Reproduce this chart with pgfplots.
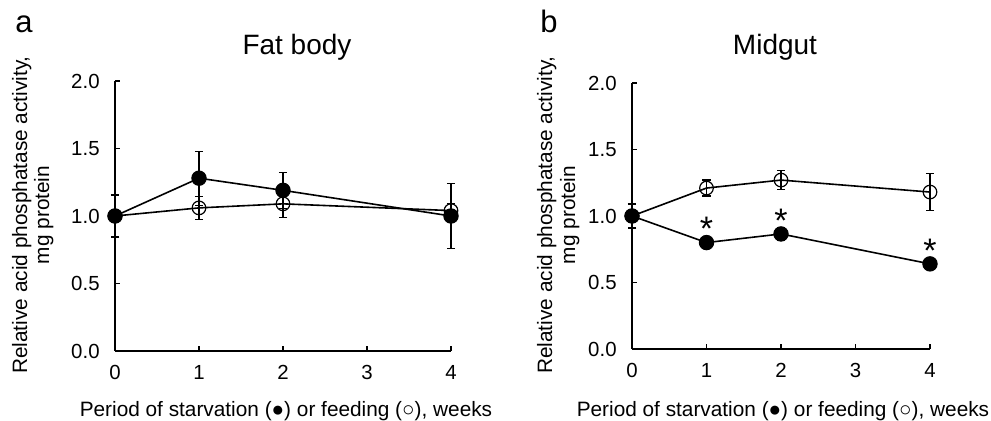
\documentclass[border=0pt]{standalone}
\usepackage{pgfplots}
\pgfplotsset{compat=1.18}
\usepackage{fontspec}
\setmainfont{Liberation Sans}

\pgfplotsset{
  panel/.style={
    scale only axis, clip=false,
    axis x line*=bottom, axis y line*=left,
    axis line style={line width=0.75pt},
    tick align=inside, major tick length=2.6pt,
    tick style={line width=0.75pt, black},
    xmin=0, xmax=4, ymin=0, ymax=2,
    xtick={0,1,2,3,4}, ytick={0,0.5,1,1.5,2},
    ticklabel style={font=\fontsize{10.2}{12}\selectfont},
    yticklabel style={/pgf/number format/.cd, fixed, fixed zerofill, precision=1,
      assume math mode=true, /tikz/.cd, anchor=east, inner sep=0pt, xshift=-7.5pt},
    xticklabel style={/pgf/number format/assume math mode=true,
      anchor=base, inner sep=0pt, yshift=-14.5pt},
  },
  feed/.style={black, line width=0.8pt, mark=o, mark size=3.4pt,
    mark options={line width=0.6pt},
    error bars/.cd, y dir=both, y explicit,
    error bar style={line width=0.6pt},
    error mark options={rotate=90, mark size=2.1pt, line width=0.6pt}},
  starve/.style={black, line width=0.8pt, mark=*, mark size=3.6pt,
    mark options={line width=0.5pt},
    error bars/.cd, y dir=both, y explicit,
    error bar style={line width=0.6pt},
    error mark options={rotate=90, mark size=2.1pt, line width=0.6pt}},
  star/.style={draw=none, mark=none, nodes near coords={*},
    every node near coord/.style={anchor=base, yshift=0.8pt, inner sep=0pt,
      font=\fontsize{17}{17}\selectfont}},
}

\newcommand{\xlab}{Period of starvation (●) or feeding (○), weeks}

\begin{document}
\begin{tikzpicture}
\useasboundingbox (0,0) rectangle (495.5pt,210.5pt);

% panel a
\begin{axis}[panel, at={(57.5pt,35pt)}, anchor=south west, width=168pt, height=135pt]
\addplot[feed] coordinates {
  (0,1.00) +- (0,0.155) (1,1.06) +- (0,0.085) (2,1.09) +- (0,0.10) (4,1.04) +- (0,0.05)
};
\addplot[starve] coordinates {
  (0,1.00) +- (0,0.155) (1,1.28) +- (0,0.20) (2,1.19) +- (0,0.135) (4,1.00) +- (0,0.24)
};
\end{axis}

% panel b
\begin{axis}[panel, at={(316pt,36pt)}, anchor=south west, width=149pt, height=133pt]
\addplot[feed] coordinates {
  (0,1.00) +- (0,0.09) (1,1.21) +- (0,0.06) (2,1.27) +- (0,0.07) (4,1.18) +- (0,0.14)
};
\addplot[starve] coordinates {
  (0,1.00) +- (0,0.09) (1,0.80) +- (0,0.03) (2,0.865) +- (0,0.05) (4,0.64) +- (0,0.03)
};
\addplot[star] coordinates {(1,0.80) (2,0.865) (4,0.64)};
\end{axis}

% panel letters and titles
\node[anchor=base west, inner sep=0pt, font=\fontsize{15.5}{15}\selectfont] at (7.5pt,194pt) {a};
\node[anchor=base west, inner sep=0pt, font=\fontsize{15.5}{15}\selectfont] at (270pt,194pt) {b};
\node[anchor=base, inner sep=0pt, font=\fontsize{14}{14}\selectfont] at (148.5pt,183pt) {Fat body};
\node[anchor=base, inner sep=0pt, font=\fontsize{14}{14}\selectfont] at (387.5pt,183pt) {Midgut};

% axis labels
\node[anchor=base, inner sep=0pt, font=\fontsize{10.4}{12}\selectfont] at (143pt,2.2pt) {\xlab};
\node[anchor=base, inner sep=0pt, font=\fontsize{10.4}{12}\selectfont] at (391.5pt,2.2pt) {\xlab};
\node[anchor=base, rotate=90, inner sep=0pt, font=\fontsize{10.4}{12}\selectfont] at (13.5pt,103pt) {Relative acid phosphatase activity,};
\node[anchor=base, rotate=90, inner sep=0pt, font=\fontsize{10.4}{12}\selectfont] at (24.5pt,103pt) {mg protein};
\node[anchor=base, rotate=90, inner sep=0pt, font=\fontsize{10.4}{12}\selectfont] at (276pt,103pt) {Relative acid phosphatase activity,};
\node[anchor=base, rotate=90, inner sep=0pt, font=\fontsize{10.4}{12}\selectfont] at (287.5pt,103pt) {mg protein};
\end{tikzpicture}
\end{document}
